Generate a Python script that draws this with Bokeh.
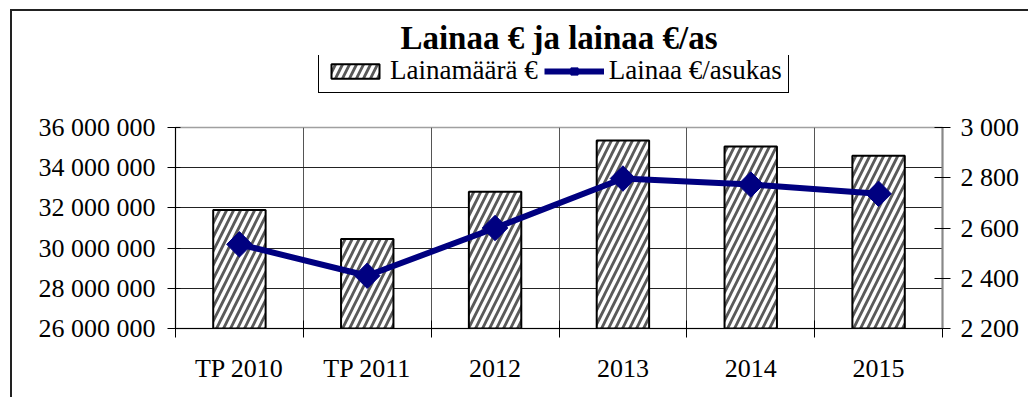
import math
from bokeh.plotting import figure
from bokeh.layouts import column
from bokeh.models import (Range1d, LinearAxis, FixedTicker, CustomJSTickFormatter,
                          Legend, LegendItem, Title)
from bokeh.embed import file_html
from bokeh.resources import INLINE

categories = ["TP 2010", "TP 2011", "2012", "2013", "2014", "2015"]
loan_total = [31_900_000, 30_450_000, 32_800_000, 35_350_000, 35_050_000, 34_600_000]
loan_per_capita = [2535, 2410, 2600, 2797, 2773, 2736]
left_ticks = [26_000_000, 28_000_000, 30_000_000, 32_000_000, 34_000_000, 36_000_000]
right_ticks = [2200, 2400, 2600, 2800, 3000]

x = [i + 0.5 for i in range(len(categories))]
boundaries = list(range(len(categories) + 1))

FONT = "Liberation Serif"
NAVY = "#000080"

BAR_STYLE = dict(fill_color="white", line_color="black", line_width=2,
                 hatch_pattern="/", hatch_color="#5a5a5a", hatch_weight=2.8,
                 hatch_scale=14)
LINE_STYLE = dict(line_color=NAVY, line_width=6)
PT_STYLE = dict(marker="square", angle=math.pi / 4, size=18, fill_color=NAVY,
                line_color=NAVY)

# ---------------- main chart ----------------
p = figure(width=1016, height=285, output_backend="svg", toolbar_location=None,
           x_range=Range1d(0, len(categories)),
           y_range=Range1d(left_ticks[0], left_ticks[-1]),
           min_border_left=163, min_border_right=86, min_border_top=15,
           min_border_bottom=69)
p.extra_y_ranges = {"r": Range1d(right_ticks[0], right_ticks[-1])}
p.outline_line_color = "#a0a0a0"
p.outline_line_width = 1.5

fmt = CustomJSTickFormatter(code=r"return Math.round(tick).toString().replace(/\B(?=(\d{3})+(?!\d))/g, ' ');")

ya = p.yaxis[0]
ya.ticker = FixedTicker(ticks=left_ticks)
ya.formatter = fmt
ya.major_label_text_font = FONT
ya.major_label_text_font_size = "26px"
ya.major_label_text_color = "black"
ya.major_tick_in = 5
ya.major_tick_out = 8
ya.major_label_standoff = 12
ya.minor_tick_line_color = None
ya.axis_line_color = "black"

ra = LinearAxis(y_range_name="r", ticker=FixedTicker(ticks=right_ticks), formatter=fmt)
ra.major_label_text_font = FONT
ra.major_label_text_font_size = "26px"
ra.major_label_text_color = "black"
ra.major_tick_in = 8
ra.major_tick_out = 8
ra.major_label_standoff = 10
ra.minor_tick_line_color = None
ra.axis_line_color = "#888888"
ra.axis_line_width = 2
p.add_layout(ra, "right")

xa = p.xaxis[0]
xa.ticker = FixedTicker(ticks=x, minor_ticks=boundaries)
xa.formatter = CustomJSTickFormatter(args=dict(cats=categories),
                                     code="return cats[Math.floor(tick)] || '';")
xa.major_label_text_font = FONT
xa.major_label_text_font_size = "26px"
xa.major_label_text_color = "black"
xa.major_tick_line_color = None
xa.major_tick_in = 0
xa.major_tick_out = 0
xa.major_label_standoff = 16
xa.minor_tick_in = 8
xa.minor_tick_out = 9
xa.minor_tick_line_color = "black"
xa.axis_line_color = "black"

p.ygrid.ticker = FixedTicker(ticks=left_ticks)
p.ygrid.grid_line_color = "#222222"
p.ygrid.grid_line_width = 1
p.xgrid.ticker = FixedTicker(ticks=boundaries[1:-1])
p.xgrid.grid_line_color = "#555555"
p.xgrid.grid_line_width = 1

p.vbar(x=x, top=loan_total, bottom=left_ticks[0], width=0.41, **BAR_STYLE)
p.line(x, loan_per_capita, y_range_name="r", **LINE_STYLE)
p.scatter(x, loan_per_capita, y_range_name="r", **PT_STYLE)

# ---------------- header: title + legend ----------------
h = figure(width=1016, height=101, output_backend="svg", toolbar_location=None,
           x_range=Range1d(0, 1), y_range=Range1d(0, 1),
           min_border_left=0, min_border_right=0, min_border_top=44,
           min_border_bottom=0)
h.axis.visible = False
h.grid.visible = False
h.outline_line_color = None

hb = h.vbar(x=x, top=loan_total, width=0.41, visible=False, **BAR_STYLE)
hl = h.line(x, loan_per_capita, visible=False, **LINE_STYLE)
hp = h.scatter(x, loan_per_capita, visible=False, **PT_STYLE)

title = Title(text="Lainaa € ja lainaa €/as", text_font=FONT, text_font_style="bold",
              text_font_size="33px", text_color="black", align="center",
              standoff=0, offset=0)
h.add_layout(title, "above")

legend = Legend(items=[LegendItem(label="Lainamäärä €", renderers=[hb]),
                       LegendItem(label="Lainaa €/asukas", renderers=[hl, hp])],
                orientation="horizontal", location=(143, 19))
legend.border_line_color = "black"
legend.border_line_alpha = 1
legend.border_line_width = 1
legend.background_fill_color = "white"
legend.background_fill_alpha = 1
legend.inactive_fill_alpha = 0
legend.label_text_font = FONT
legend.label_text_font_size = "27px"
legend.label_text_color = "black"
legend.glyph_width = 60
legend.glyph_height = 18
legend.padding = 6
legend.spacing = 6
legend.label_standoff = 5
legend.margin = 0
h.add_layout(legend, "center")

layout = column(h, p, spacing=0)
layout.margin = (9, 0, 0, 10)
layout.styles = {"border-left": "2px solid #222", "border-top": "2px solid #222"}

open("out.html", "w").write(file_html(layout, INLINE))
